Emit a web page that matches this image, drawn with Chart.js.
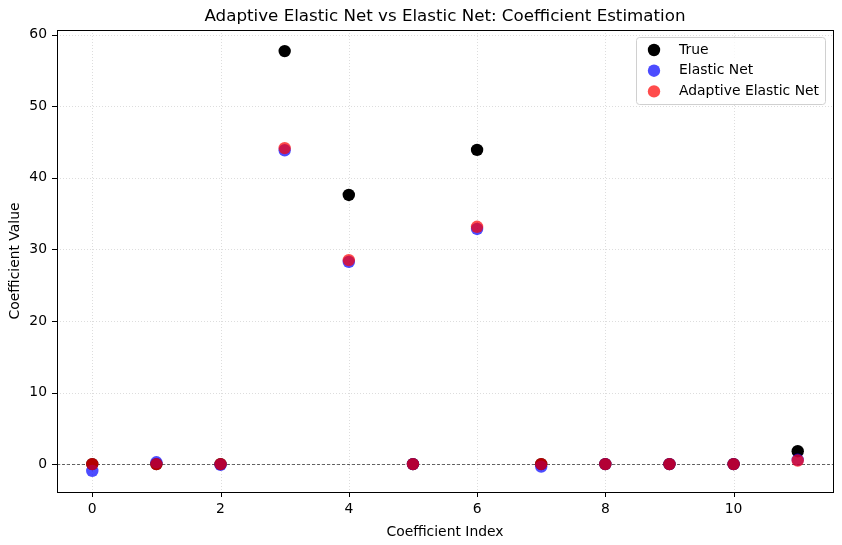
<!DOCTYPE html>
<html>
<head>
<meta charset="utf-8">
<script src="https://cdn.jsdelivr.net/npm/chart.js@4.4.0/dist/chart.umd.min.js"></script>
<style>
  html, body { margin: 0; padding: 0; background: #fff; }
  #wrap { width: 842px; height: 545px; }
</style>
</head>
<body>
<div id="wrap"><canvas id="myChart" width="842" height="545"></canvas></div>
<script>
// values
const coefIndex = [0, 1, 2, 3, 4, 5, 6, 7, 8, 9, 10, 11];
const trueCoef = [0, 0, 0, 57.7, 37.6, 0, 43.9, 0, 0, 0, 0, 1.8];
const elasticNet = [-0.95, 0.25, -0.1, 43.85, 28.25, 0, 32.85, -0.35, 0, 0, 0, 0.6];
const adaptiveNet = [0, 0, 0, 44.15, 28.5, 0, 33.15, 0, 0, 0, 0, 0.5];
const xTicks = [0, 2, 4, 6, 8, 10];
const yTicks = [0, 10, 20, 30, 40, 50, 60];

const FONT = "'DejaVu Sans', sans-serif";
const FS = 13.9;

function toPoints(vals) {
  return coefIndex.map((x, i) => ({ x: x, y: vals[i] }));
}

// grid, ticks, spines, zero line, title, legend
const framePlugin = {
  id: "frame",
  beforeDatasetsDraw(chart) {
    const { ctx, chartArea: a, scales } = chart;
    ctx.save();
    ctx.strokeStyle = "rgba(176,176,176,0.55)";
    ctx.lineWidth = 0.8;
    ctx.setLineDash([1, 2]);
    xTicks.forEach(v => {
      const px = Math.round(scales.x.getPixelForValue(v)) + 0.5;
      ctx.beginPath(); ctx.moveTo(px, a.top); ctx.lineTo(px, a.bottom); ctx.stroke();
    });
    yTicks.forEach(v => {
      const py = Math.round(scales.y.getPixelForValue(v)) + 0.5;
      ctx.beginPath(); ctx.moveTo(a.left, py); ctx.lineTo(a.right, py); ctx.stroke();
    });
    // zero line
    ctx.strokeStyle = "#000";
    ctx.lineWidth = 0.6;
    ctx.setLineDash([3, 2]);
    const zy = Math.round(scales.y.getPixelForValue(0)) + 0.5;
    ctx.beginPath(); ctx.moveTo(a.left, zy); ctx.lineTo(a.right, zy); ctx.stroke();
    ctx.restore();
  },
  afterDraw(chart) {
    const { ctx, chartArea: a, scales } = chart;
    ctx.save();
    ctx.strokeStyle = "#000";
    ctx.lineWidth = 1;
    ctx.setLineDash([]);
    xTicks.forEach(v => {
      const px = Math.round(scales.x.getPixelForValue(v)) + 0.5;
      ctx.beginPath(); ctx.moveTo(px, a.bottom); ctx.lineTo(px, a.bottom + 5); ctx.stroke();
    });
    yTicks.forEach(v => {
      const py = Math.round(scales.y.getPixelForValue(v)) + 0.5;
      ctx.beginPath(); ctx.moveTo(a.left, py); ctx.lineTo(a.left - 5, py); ctx.stroke();
    });
    ctx.strokeRect(Math.round(a.left) + 0.5, Math.round(a.top) + 0.5,
      Math.round(a.right - a.left), Math.round(a.bottom - a.top));

    // title
    ctx.fillStyle = "#000";
    ctx.font = "16.7px " + FONT;
    ctx.textAlign = "center";
    ctx.textBaseline = "middle";
    ctx.fillText("Adaptive Elastic Net vs Elastic Net: Coefficient Estimation", (a.left + a.right) / 2, 17);

    // legend
    const bx = 636, by = 37, bw = 189, bh = 67, r = 3;
    ctx.fillStyle = "rgba(255,255,255,0.8)";
    ctx.strokeStyle = "#d0d0d0";
    ctx.beginPath();
    ctx.roundRect(bx + 0.5, by + 0.5, bw, bh, r);
    ctx.fill(); ctx.stroke();
    const items = [
      ["True", "#000000"],
      ["Elastic Net", "rgba(0,0,255,0.7)"],
      ["Adaptive Elastic Net", "rgba(255,0,0,0.7)"]
    ];
    ctx.font = FS + "px " + FONT;
    ctx.textAlign = "left";
    items.forEach((it, i) => {
      const y = 50 + i * 20.7;
      ctx.fillStyle = it[1];
      ctx.beginPath(); ctx.arc(654, y, 6.2, 0, Math.PI * 2); ctx.fill();
      ctx.fillStyle = "#000";
      ctx.fillText(it[0], 679, y);
    });
    ctx.restore();
  }
};

new Chart(document.getElementById("myChart"), {
  type: "scatter",
  data: {
    // reversed so that Adaptive is drawn on top
    datasets: [
      { label: "Adaptive Elastic Net", data: toPoints(adaptiveNet),
        backgroundColor: "rgba(255,0,0,0.7)", borderWidth: 0, pointRadius: 6.2, pointHoverRadius: 6.2 },
      { label: "Elastic Net", data: toPoints(elasticNet),
        backgroundColor: "rgba(0,0,255,0.7)", borderWidth: 0, pointRadius: 6.2, pointHoverRadius: 6.2 },
      { label: "True", data: toPoints(trueCoef),
        backgroundColor: "#000000", borderWidth: 0, pointRadius: 6.2, pointHoverRadius: 6.2 }
    ]
  },
  options: {
    responsive: false,
    animation: false,
    layout: { padding: { left: 0, right: 9, top: 30, bottom: 0 } },
    plugins: { legend: { display: false }, title: { display: false }, tooltip: { enabled: false } },
    scales: {
      x: {
        type: "linear", min: -0.55, max: 11.55,
        grid: { display: false }, border: { display: false },
        afterBuildTicks: s => { s.ticks = xTicks.map(v => ({ value: v })); },
        afterFit: s => { s.height = 53; },
        ticks: { padding: 1, color: "#000", font: { family: FONT, size: FS } },
        title: { display: true, text: "Coefficient Index", color: "#000", padding: { top: 10 },
                 font: { family: FONT, size: FS } }
      },
      y: {
        type: "linear", min: -3.9, max: 60.65,
        grid: { display: false }, border: { display: false },
        afterBuildTicks: s => { s.ticks = yTicks.map(v => ({ value: v })); },
        afterFit: s => { s.width = 57; },
        ticks: { padding: 2, color: "#000", font: { family: FONT, size: FS } },
        title: { display: true, text: "Coefficient Value", color: "#000", padding: { top: 7.5 },
                 font: { family: FONT, size: FS } }
      }
    }
  },
  plugins: [framePlugin]
});
</script>
</body>
</html>
